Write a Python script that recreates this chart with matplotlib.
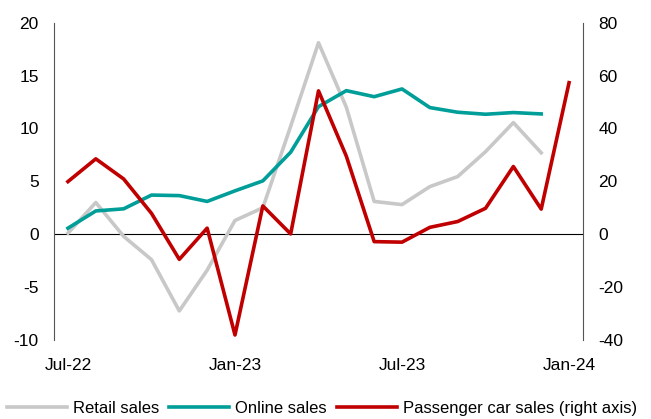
import numpy as np
import matplotlib.pyplot as plt

plt.rcParams['font.family'] = ['Liberation Sans', 'DejaVu Sans']
plt.rcParams['font.size'] = 12.5
plt.rcParams['axes.unicode_minus'] = False

months = ['Jul-22', 'Aug-22', 'Sep-22', 'Oct-22', 'Nov-22', 'Dec-22',
          'Jan-23', 'Feb-23', 'Mar-23', 'Apr-23', 'May-23', 'Jun-23',
          'Jul-23', 'Aug-23', 'Sep-23', 'Oct-23', 'Nov-23', 'Dec-23', 'Jan-24']
retail = [0.1, 3.0, -0.2, -2.4, -7.25, -3.4, 1.3, 2.5, 10.2, 18.1, 12.0,
          3.1, 2.8, 4.5, 5.45, 7.8, 10.55, 7.7, np.nan]
online = [0.57, 2.2, 2.4, 3.7, 3.65, 3.1, 4.1, 5.04, 7.75, 12.06, 13.57,
          13.0, 13.73, 11.97, 11.53, 11.34, 11.5, 11.37, np.nan]
car = [19.9, 28.5, 20.9, 7.9, -9.5, 2.3, -38.1, 10.7, 0.1, 54.2, 29.5,
       -2.8, -3.0, 2.6, 4.8, 9.8, 25.6, 9.5, 57.3]
tick_labels = ['Jul-22', 'Jan-23', 'Jul-23', 'Jan-24']

x = np.arange(len(months))

fig = plt.figure(figsize=(6.51, 4.19), dpi=100)
ax = fig.add_axes([0.083, 0.1885, 0.8125, 0.7575])
ax2 = ax.twinx()

l1, = ax.plot(x, retail, color='#C8C8C8', lw=2.6, label='Retail sales')
l2, = ax.plot(x, online, color='#009E99', lw=2.6, label='Online sales')
l3, = ax2.plot(x, car, color='#C00000', lw=2.6,
               label='Passenger car sales (right axis)')
ax.axhline(0, color='black', lw=0.8, zorder=0)

ax.set_xlim(-0.5, len(months) - 0.5)
ax.set_ylim(-10, 20)
ax.set_yticks([-10, -5, 0, 5, 10, 15, 20])
ax2.set_ylim(-40, 80)
ax2.set_yticks([-40, -20, 0, 20, 40, 60, 80])
ax.set_xticks([months.index(m) for m in tick_labels])
ax.set_xticklabels(tick_labels)

for a in (ax, ax2):
    a.spines['top'].set_visible(False)
    a.spines['bottom'].set_visible(False)
    a.spines['left'].set_color('#555555')
    a.spines['right'].set_color('#555555')
    a.tick_params(length=0, labelsize=12.5, pad=11)
ax.tick_params(axis='x', pad=13)
ax.spines['right'].set_visible(False)
ax2.spines['left'].set_visible(False)

fig.legend(handles=[l1, l2, l3], loc='center', bbox_to_anchor=(0.4945, 0.026),
           ncol=3, frameon=False, fontsize=12, handlelength=3.6,
           handletextpad=0.35, columnspacing=0.6, borderpad=0)

fig.savefig('out.png', dpi=100)
